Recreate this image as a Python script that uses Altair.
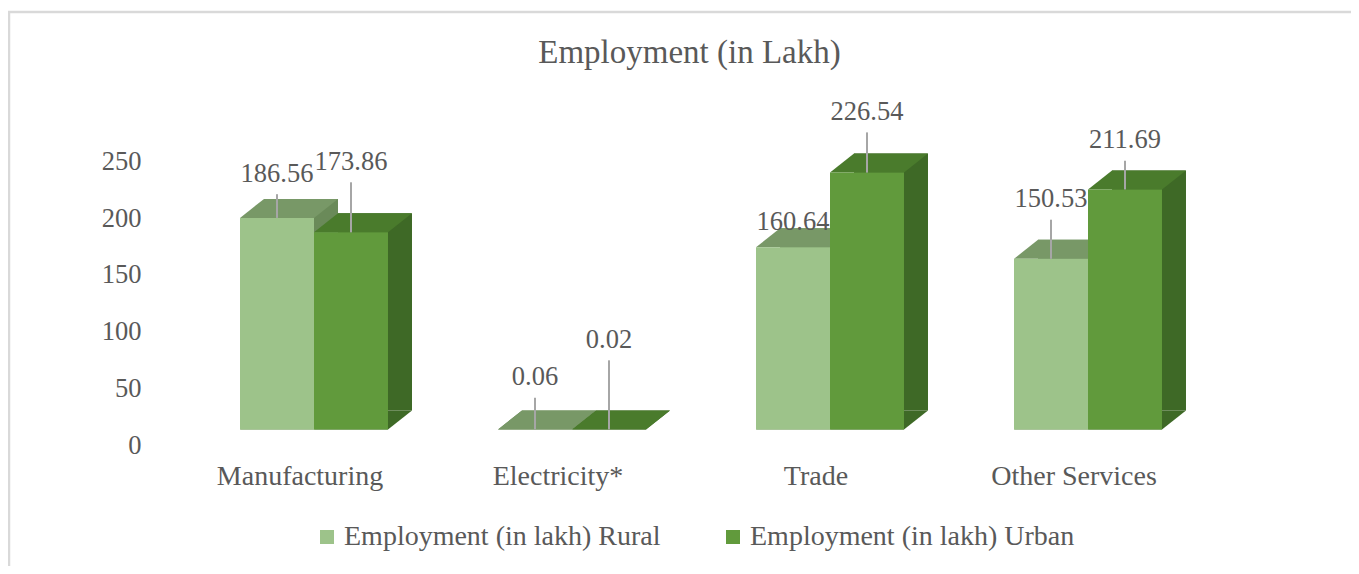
import altair as alt
import pandas as pd

# ---------------- data ----------------
categories = ["Manufacturing", "Electricity*", "Trade", "Other Services"]
series = ["Employment (in lakh) Rural", "Employment (in lakh) Urban"]
rural = [186.56, 0.06, 160.64, 150.53]
urban = [173.86, 0.02, 226.54, 211.69]
# height (axis units) at which each data label sits
rural_label_at = [225.5, 46, 183, 203]
urban_label_at = [236, 79, 280, 255]
y_ticks = [0, 50, 100, 150, 200, 250]

rows = []
for i, c in enumerate(categories):
    rows.append({"category": c, "series": series[0], "value": rural[i], "label_at": rural_label_at[i]})
    rows.append({"category": c, "series": series[1], "value": urban[i], "label_at": urban_label_at[i]})
df = pd.DataFrame(rows)

# ---------------- styling / layout ----------------
FONT = "Liberation Serif"
TXT = "#595959"
RURAL_FRONT, URBAN_FRONT = "#9dc38a", "#619a3c"
RURAL_TOP, URBAN_TOP = "#789867", "#4a7b2c"
RURAL_SIDE, URBAN_SIDE = "#6a8a59", "#3e6926"
LEADER = "#a6a6a6"

STEP = 258.0
PI = 0.4264
FIRST_CENTER = 165.0
PO = FIRST_CENTER / STEP - (1 - PI) / 2
W = STEP * (4 - PI + 2 * PO)
H = 283.5
BW = STEP * (1 - PI)
BAR_W = BW / 2
DX, DY = 24.0, 19.0

S = 50.0  # symbol half-size scale -> size = (2S)^2
SYM_SIZE = (2 * S) ** 2


def para_path(w, dx, dy, s):
    pts = [(-w / 2, 0), (w / 2, 0), (w / 2 + dx, -dy), (-w / 2 + dx, -dy)]
    return "M" + "L".join(f"{x / s:.4f},{y / s:.4f}" for x, y in pts) + "Z"


PARA = para_path(BAR_W, DX, DY, S)

x_scale = alt.Scale(paddingInner=PI, paddingOuter=PO)
y_scale = alt.Scale(domain=[0, 250], nice=False, zero=True)

x_axis_def = alt.Axis(title=None, labelAngle=0, labelOffset=-14, labelPadding=33,
                      labelFontSize=28, labelFont=FONT, labelColor=TXT,
                      ticks=False, domain=False, grid=False)
y_axis_def = alt.Axis(title=None, values=y_ticks, labelOffset=15.5, labelPadding=8,
                      labelFontSize=26.5, labelFont=FONT, labelColor=TXT,
                      ticks=False, domain=False, grid=False)

x_enc = alt.X("category:N", sort=categories, scale=x_scale, axis=x_axis_def)


def y_enc(field):
    return alt.Y(f"{field}:Q", scale=y_scale, axis=y_axis_def)


def xo_band(shift):
    # Rural / Urban sub-bands inside each category band (optionally shifted for depth)
    return alt.XOffset("series:N", sort=series,
                       scale=alt.Scale(type="band", range=[shift, BW + shift],
                                       paddingInner=0, paddingOuter=0))


# centres of the Rural / Urban sub-bands (for point, text and rule marks)
xo_mid = alt.XOffset("series:N", sort=series,
                     scale=alt.Scale(type="point", range=[BAR_W / 2, BW - BAR_W / 2], padding=0))


def col(rng):
    return alt.Color("series:N", sort=series, scale=alt.Scale(domain=series, range=rng), legend=None)


base = alt.Chart(df)

side = base.mark_bar(yOffset=-DY, y2Offset=-DY).encode(
    x=x_enc, xOffset=xo_band(DX), y=y_enc("value"), color=col([RURAL_SIDE, URBAN_SIDE])
)

bottom = base.transform_calculate(base0="0").mark_point(
    shape=PARA, size=SYM_SIZE, filled=True, opacity=1, strokeWidth=0
).encode(
    x=x_enc, xOffset=xo_mid, y=y_enc("base0"), color=col([RURAL_SIDE, URBAN_SIDE]),
)

top = base.mark_point(
    shape=PARA, size=SYM_SIZE, filled=True, opacity=1, strokeWidth=0
).encode(x=x_enc, xOffset=xo_mid, y=y_enc("value"), color=col([RURAL_TOP, URBAN_TOP]))

front = base.mark_bar().encode(
    x=x_enc, xOffset=xo_band(0), y=y_enc("value"),
    color=alt.Color(
        "series:N", sort=series,
        scale=alt.Scale(domain=series, range=[RURAL_FRONT, URBAN_FRONT]),
        legend=alt.Legend(title=None, orient="none", legendX=164, legendY=377,
                          direction="horizontal", symbolType="square", symbolSize=196,
                          symbolStrokeWidth=0, labelFont=FONT, labelFontSize=28,
                          labelColor=TXT, labelOffset=3, columnPadding=58,
                          labelLimit=1000, padding=0),
    ),
)

leaders = base.transform_calculate(lead_top="datum.label_at - 18").transform_filter(
    "datum.label_at - 18 - datum.value > 10"
).mark_rule(color=LEADER, strokeWidth=2).encode(
    x=x_enc, xOffset=xo_mid, y=y_enc("lead_top"), y2="value:Q"
)

labels = base.mark_text(font=FONT, fontSize=26.5, color=TXT, baseline="middle").encode(
    x=x_enc, xOffset=xo_mid, y=y_enc("label_at"),
    text=alt.Text("value:Q", format=".2f"),
)

one = alt.Chart(pd.DataFrame({"k": [0]}))
border_top = one.mark_rule(color="#d9d9d9", strokeWidth=2.5).encode(
    x=alt.value(-141), x2=alt.value(1300), y=alt.value(-134)
)
border_left = one.mark_rule(color="#d9d9d9", strokeWidth=2.5).encode(
    x=alt.value(-140), y=alt.value(-134), y2=alt.value(430)
)

chart = alt.layer(
    side, bottom, top, front, leaders, labels, border_top, border_left
).resolve_scale(
    color="independent", xOffset="independent"
).properties(
    width=W, height=H,
    autosize=alt.AutoSizeParams(type="none"),
    padding={"left": 141, "top": 138, "right": 1343 - 141 - W, "bottom": 558 - 138 - H},
    title=alt.TitleParams(
        "Employment (in Lakh)", font=FONT, fontSize=33, fontWeight="normal", color=TXT,
        anchor="middle", frame="group", dx=-11.5, baseline="alphabetic", offset=-85.5,
    ),
).configure_view(stroke=None)

chart.save("out.html", embed_options={"renderer": "svg", "actions": False})
